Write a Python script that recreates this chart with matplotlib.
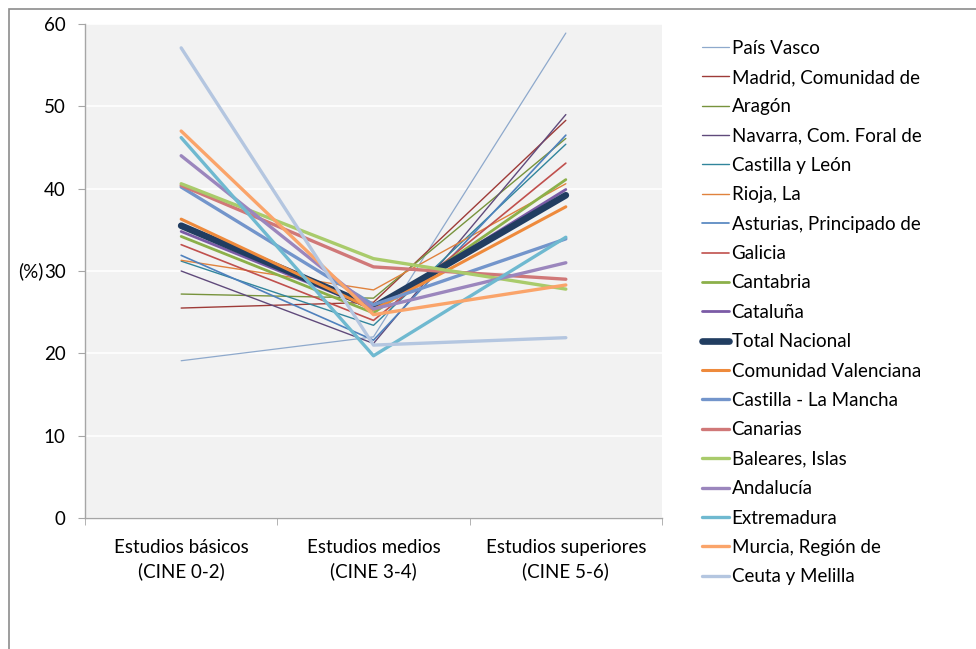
import matplotlib
matplotlib.use("Agg")
import matplotlib.pyplot as plt
from matplotlib.patches import Rectangle

categories = ["Estudios básicos\n(CINE 0-2)", "Estudios medios\n(CINE 3-4)", "Estudios superiores\n(CINE 5-6)"]

series_names = [
    "País Vasco", "Madrid, Comunidad de", "Aragón", "Navarra, Com. Foral de",
    "Castilla y León", "Rioja, La", "Asturias, Principado de", "Galicia",
    "Cantabria", "Cataluña", "Total Nacional", "Comunidad Valenciana",
    "Castilla - La Mancha", "Canarias", "Baleares, Islas", "Andalucía",
    "Extremadura", "Murcia, Región de", "Ceuta y Melilla",
]

pais_vasco = [19.1, 22.0, 58.9]
madrid = [25.5, 26.2, 48.3]
aragon = [27.2, 26.7, 46.1]
navarra = [30.0, 21.2, 49.0]
castilla_leon = [31.2, 23.4, 45.4]
rioja = [31.3, 27.7, 40.6]
asturias = [31.9, 21.6, 46.5]
galicia = [33.2, 24.0, 43.1]
cantabria = [34.2, 24.9, 41.1]
cataluna = [34.8, 25.4, 39.9]
total_nacional = [35.5, 25.6, 39.2]
c_valenciana = [36.3, 25.3, 37.8]
castilla_mancha = [40.2, 25.9, 33.9]
canarias = [40.4, 30.5, 29.0]
baleares = [40.6, 31.5, 27.8]
andalucia = [44.0, 25.4, 31.0]
extremadura = [46.2, 19.7, 34.1]
murcia = [47.0, 24.7, 28.3]
ceuta_melilla = [57.1, 21.0, 21.9]

values = [pais_vasco, madrid, aragon, navarra, castilla_leon, rioja, asturias,
          galicia, cantabria, cataluna, total_nacional, c_valenciana,
          castilla_mancha, canarias, baleares, andalucia, extremadura, murcia,
          ceuta_melilla]

colors = ["#8EA9CC", "#9E3B38", "#77933C", "#604A7B", "#31859C", "#E0823D",
          "#4F81BD", "#C0504D", "#8CB04A", "#7B5BA6", "#213D61", "#EE8A3C",
          "#7395CB", "#D07878", "#A9CB6B", "#9B86BD", "#6FB9D0", "#FAA46A",
          "#B4C6E0"]
widths = [0.9, 1.0, 1.0, 1.0, 1.0, 1.0, 1.2, 1.2, 2.0, 2.0, 4.8, 2.2,
          2.4, 2.4, 2.4, 2.4, 2.4, 2.4, 2.4]

plt.rcParams['font.family'] = ['Lato', 'DejaVu Sans']
FS = 13.5

fig = plt.figure(figsize=(9.76, 6.49), dpi=100)
ax = fig.add_axes([85/976, 1 - 518/649, (662-85)/976, (518-24)/649])
ax.set_facecolor("#F2F2F2")

x = list(range(len(categories)))
for name, vals, c, w in zip(series_names, values, colors, widths):
    ax.plot(x, vals, color=c, lw=w, label=name, solid_capstyle='round')

ax.set_xlim(-0.5, 2.5)
ax.set_ylim(0, 60)
ax.set_yticks(range(0, 61, 10))
ax.yaxis.grid(True, color="white", lw=1.2)
ax.set_axisbelow(True)
ax.set_xticks(x)
ax.set_xticklabels(categories, fontsize=FS, linespacing=1.45)
ax.set_xticks([-0.5, 0.5, 1.5, 2.5], minor=True)
ax.tick_params(axis='x', which='major', length=0, pad=15)
ax.tick_params(axis='x', which='minor', length=5, color="#A6A6A6", direction='out')
ax.tick_params(axis='y', length=5, color="#A6A6A6", labelsize=FS, pad=9)
for s in ["top", "right"]:
    ax.spines[s].set_visible(False)
for s in ["left", "bottom"]:
    ax.spines[s].set_color("#A6A6A6")
    ax.spines[s].set_linewidth(1.0)

fig.text(18/976, 1 - 271/649, "(%)", fontsize=FS, va='center', ha='left')

leg = fig.legend(loc='upper left', bbox_to_anchor=(694/976, 1 - 32/649),
                 frameon=False, fontsize=FS, handlelength=1.45,
                 handletextpad=0.15, labelspacing=0.66, borderaxespad=0)

fig.patches.append(Rectangle((9/976, -0.1), 1.2, 1 - 9/649 + 0.1,
                             transform=fig.transFigure, fill=False,
                             edgecolor="#8C8C8C", lw=1.2))

fig.savefig("out.png", dpi=100, facecolor="white")
